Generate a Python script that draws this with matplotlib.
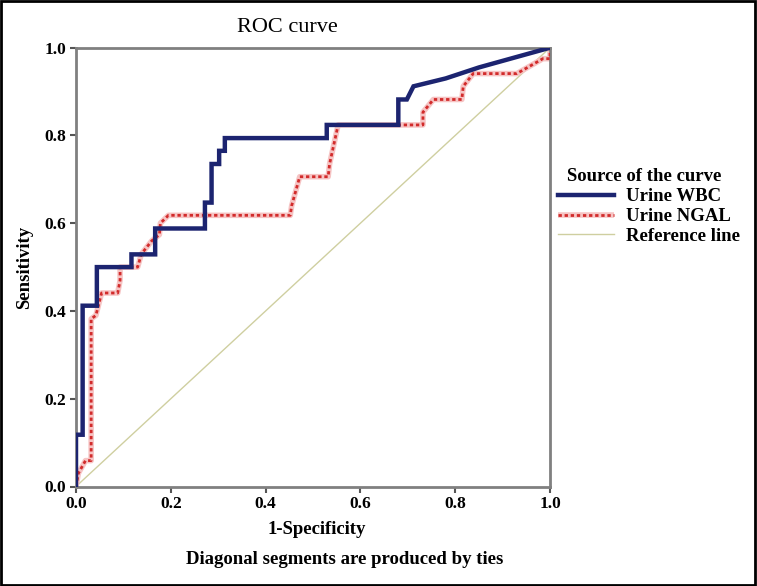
import matplotlib
matplotlib.use("Agg")
import matplotlib.pyplot as plt
from matplotlib.patches import Rectangle

# ---- data ----
wbc_fpr = [0, 0, 0.014, 0.014, 0.044, 0.044, 0.117, 0.117, 0.167, 0.167, 0.272, 0.272,
           0.286, 0.286, 0.302, 0.302, 0.314, 0.314, 0.529, 0.529, 0.68, 0.68, 0.698,
           0.712, 0.78, 0.85, 0.9, 1.0]
wbc_tpr = [0, 0.118, 0.118, 0.412, 0.412, 0.5, 0.5, 0.529, 0.529, 0.588, 0.588, 0.647,
           0.647, 0.735, 0.735, 0.765, 0.765, 0.794, 0.794, 0.824, 0.824, 0.882, 0.882,
           0.912, 0.93, 0.955, 0.97, 1.0]

ngal_fpr = [0, 0.005, 0.02, 0.032, 0.032, 0.042, 0.054, 0.088, 0.093, 0.093, 0.13, 0.138,
            0.16, 0.176, 0.178, 0.195, 0.452, 0.455, 0.472, 0.532, 0.535, 0.553, 0.732,
            0.732, 0.754, 0.814, 0.817, 0.838, 0.93, 0.985, 1.0, 1.0]
ngal_tpr = [0, 0.03, 0.059, 0.059, 0.382, 0.39, 0.441, 0.441, 0.47, 0.5, 0.5, 0.53,
            0.56, 0.574, 0.6, 0.618, 0.618, 0.64, 0.706, 0.706, 0.735, 0.824, 0.824,
            0.853, 0.882, 0.882, 0.912, 0.941, 0.941, 0.975, 0.975, 1.0]

ref_x = [0, 1]
ref_y = [0, 1]

ticks = [0.0, 0.2, 0.4, 0.6, 0.8, 1.0]
tick_labels = ["0.0", "0.2", "0.4", "0.6", "0.8", "1.0"]
series_labels = ["Urine WBC", "Urine NGAL", "Reference line"]

# ---- figure ----
plt.rcParams['font.family'] = ['Liberation Serif', 'DejaVu Serif']
W, H = 757, 586
fig = plt.figure(figsize=(W / 100, H / 100), dpi=100)
fig.patch.set_facecolor('white')

x0, x1 = 76, 550
y0, y1 = 486.5, 47.7
ax = fig.add_axes([x0 / W, 1 - y0 / H, (x1 - x0) / W, (y0 - y1) / H])

ref_line, = ax.plot(ref_x, ref_y, color='#cfcfa0', lw=1.0, zorder=1)
ngal_halo, = ax.plot(ngal_fpr, ngal_tpr, color='#f6c4c4', lw=4.0, zorder=2,
                     solid_capstyle='butt')
ngal_line, = ax.plot(ngal_fpr, ngal_tpr, color='#d22b2b', lw=2.0, zorder=3,
                     linestyle=(0, (1.2, 1.0)))
wbc_line, = ax.plot(wbc_fpr, wbc_tpr, color='#1c2470', lw=3.2, zorder=4,
                    solid_joinstyle='miter')

ax.set_xlim(0, 1)
ax.set_ylim(0, 1)
ax.set_xticks(ticks)
ax.set_xticklabels(tick_labels)
ax.set_yticks(ticks)
ax.set_yticklabels(tick_labels)
ax.tick_params(direction='out', length=4, width=1.5, color='#555555',
               labelsize=12.5, pad=3)
for lbl in ax.get_xticklabels() + ax.get_yticklabels():
    lbl.set_fontweight('bold')
for s in ax.spines.values():
    s.set_color('#808080')
    s.set_linewidth(2.0)

fig.text(25 / W, 1 - 267 / H, "Sensitivity", rotation=90, ha='center', va='center',
         fontsize=13.5, fontweight='bold')
fig.text(317 / W, 1 - 530 / H, "1-Specificity", ha='center', va='center',
         fontsize=13.5, fontweight='bold')
fig.text(345 / W, 1 - 560 / H, "Diagonal segments are produced by ties",
         ha='center', va='center', fontsize=13.5, fontweight='bold')
fig.text(287 / W, 1 - 27 / H, "ROC curve", ha='center', va='center', fontsize=16,
         fontweight='normal')

fig.text(567 / W, 1 - 177 / H, "Source of the curve", ha='left', va='center',
         fontsize=13.5, fontweight='bold')
leg = fig.legend([wbc_line, (ngal_halo, ngal_line), ref_line], series_labels,
                 loc='upper left',
                 bbox_to_anchor=(558 / W, 1 - 188 / H), frameon=False,
                 handlelength=3.0, handletextpad=0.65, labelspacing=0.15,
                 borderpad=0, borderaxespad=0,
                 prop={'weight': 'bold', 'size': 13.5})

fig.add_artist(Rectangle((0.001, 0.001), 0.997, 0.997, transform=fig.transFigure,
                         fill=False, edgecolor='black', lw=2))

fig.savefig("out.png", dpi=100)
